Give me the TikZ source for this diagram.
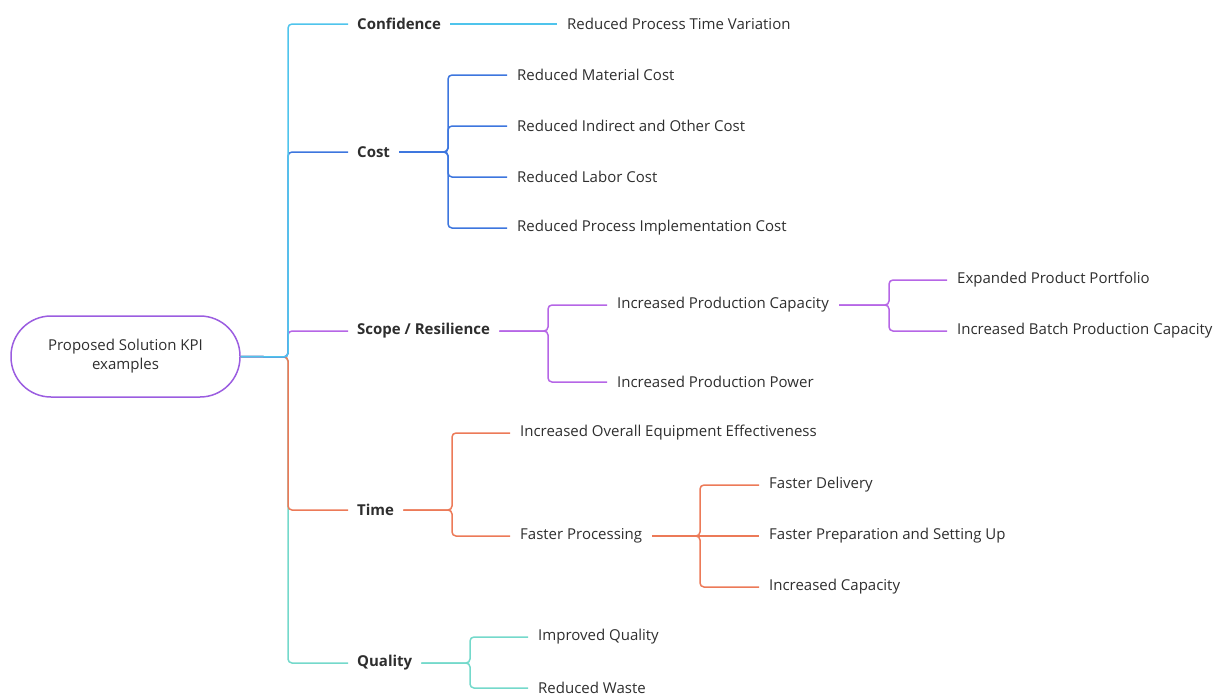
\documentclass[tikz,border=0pt]{standalone}
\usepackage{fontspec}
\setmainfont{Open Sans}
\definecolor{txtc}{HTML}{2E2E2E}
\definecolor{rootc}{HTML}{9B5DE0}
\definecolor{confc}{HTML}{4FC4EC}
\definecolor{costc}{HTML}{3D76DE}
\definecolor{scopec}{HTML}{B666E6}
\definecolor{timec}{HTML}{EC7A58}
\definecolor{qualc}{HTML}{74D9CB}
\begin{document}
\begin{tikzpicture}[x=1pt,y=-1pt,
    every node/.style={font=\fontsize{15}{19}\selectfont,text=txtc},
    topic/.style={anchor=west,inner xsep=9pt,inner ysep=2pt,font=\fontsize{15}{19}\selectfont\bfseries},
    leaf/.style={anchor=west,inner xsep=10pt,inner ysep=2pt},
    link/.style={line width=1.5pt,rounded corners=4pt}]
    \useasboundingbox (0,0) rectangle (1216,694);
    % central topic
    \node[draw=rootc,line width=1.5pt,rounded corners=40pt,minimum width=229pt,
      minimum height=81pt,align=center] (root) at (125.5,356.5)
      {Proposed Solution KPI\\examples};
    \coordinate (hub) at (288,357);
    % main topics
    \node[topic] (conf) at (348,24) {Confidence};
    \node[topic] (cost) at (348,152) {Cost};
    \node[topic] (scope) at (348,331) {Scope / Resilience};
    \node[topic] (time) at (348,510) {Time};
    \node[topic] (qual) at (348,663) {Quality};
    % subtopics
    \node[leaf] (rptv) at (557,24) {Reduced Process Time Variation};
    \node[leaf] (rmat) at (507,75) {Reduced Material Cost};
    \node[leaf] (rind) at (507,126) {Reduced Indirect and Other Cost};
    \node[leaf] (rlab) at (507,177) {Reduced Labor Cost};
    \node[leaf] (rimp) at (507,228) {Reduced Process Implementation Cost};
    \node[leaf] (ipcap) at (607,305) {Increased Production Capacity};
    \node[leaf] (ippow) at (607,382) {Increased Production Power};
    \node[leaf] (epp) at (947,280) {Expanded Product Portfolio};
    \node[leaf] (ibpc) at (947,331) {Increased Batch Production Capacity};
    \node[leaf] (ioee) at (510,433) {Increased Overall Equipment Effectiveness};
    \node[leaf] (fproc) at (510,536) {Faster Processing};
    \node[leaf] (fdel) at (759,485) {Faster Delivery};
    \node[leaf] (fprep) at (759,536) {Faster Preparation and Setting Up};
    \node[leaf] (icap) at (759,587) {Increased Capacity};
    \node[leaf] (iqual) at (528,637) {Improved Quality};
    \node[leaf] (rwaste) at (528,688) {Reduced Waste};
    % bracket points
    \coordinate (costb) at (448,152);
    \coordinate (scopeb) at (548,331);
    \coordinate (ipcapb) at (889,305);
    \coordinate (timeb) at (452,510);
    \coordinate (fprocb) at (700,536);
    \coordinate (qualb) at (470,663);
    % trunk
    \draw[link,qualc] (root.east) -- (hub) |- (qual.west);
    \draw[link,timec] (root.east) -- (hub) |- (time.west);
    \draw[link,scopec] (root.east) -- (hub) |- (scope.west);
    \draw[link,costc] (root.east) -- (hub) |- (cost.west);
    \draw[link,confc] (root.east) -- (hub) |- (conf.west);
    % branches
    \draw[link,confc] (conf.east) -- (rptv.west);
    \foreach \c in {rmat,rind,rlab,rimp}
      \draw[link,costc] (cost.east) -- (costb) |- (\c.west);
    \foreach \c in {ipcap,ippow}
      \draw[link,scopec] (scope.east) -- (scopeb) |- (\c.west);
    \foreach \c in {epp,ibpc}
      \draw[link,scopec] (ipcap.east) -- (ipcapb) |- (\c.west);
    \foreach \c in {ioee,fproc}
      \draw[link,timec] (time.east) -- (timeb) |- (\c.west);
    \foreach \c in {fdel,icap}
      \draw[link,timec] (fproc.east) -- (fprocb) |- (\c.west);
    \draw[link,timec] (fproc.east) -- (fprep.west);
    \foreach \c in {iqual,rwaste}
      \draw[link,qualc] (qual.east) -- (qualb) |- (\c.west);
\end{tikzpicture}
\end{document}
